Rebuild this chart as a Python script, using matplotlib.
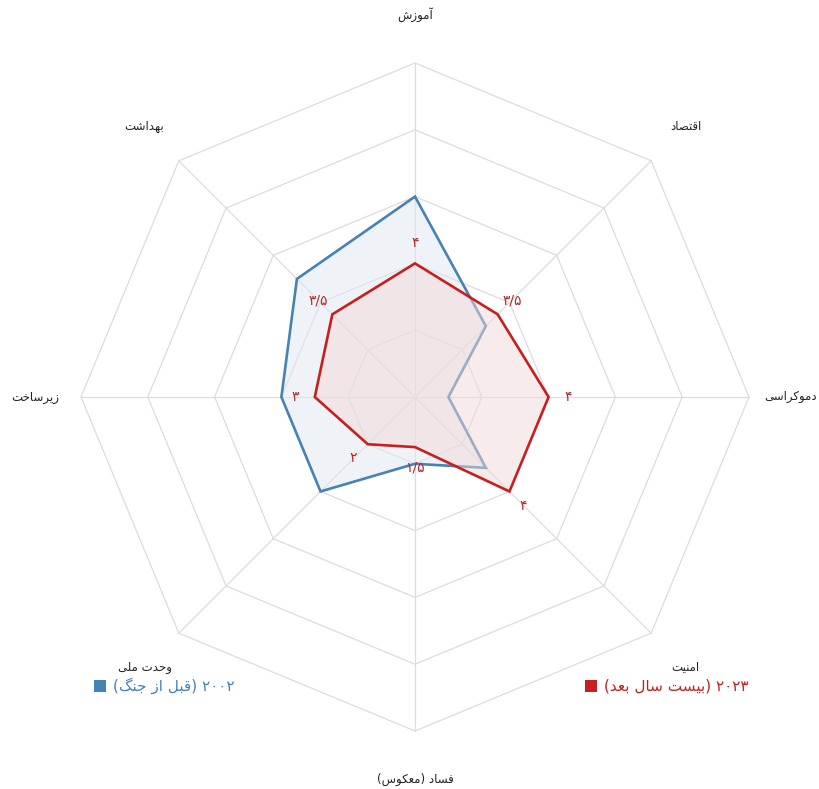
import matplotlib
matplotlib.use("Agg")
import matplotlib.pyplot as plt
from matplotlib.patches import Polygon, Rectangle
import numpy as np

# axes of the radar, clockwise from the top
categories = ["آموزش", "اقتصاد", "دموکراسی", "امنیت",
              "فساد (معکوس)", "وحدت ملی", "زیرساخت", "بهداشت"]
values_2002 = [6, 3, 1, 3, 2, 4, 4, 5]
values_2023 = [4, 3.5, 4, 4, 1.5, 2, 3, 3.5]
labels_2023 = ["۴", "۳/۵", "۴", "۴", "۱/۵", "۲", "۳", "۳/۵"]
legend_2002 = "۲۰۰۲ (قبل از جنگ)"
legend_2023 = "۲۰۲۳ (بیست سال بعد)"
max_value = 10
rings = [2, 4, 6, 8, 10]

BLUE = "#4682b4"
RED = "#c81e1e"
GRID = "#dcdcdc"

# contextual forms: isolated, final, initial, medial (right-joining letters have two)
FORMS = {
    "ا": ("\ufe8d", "\ufe8e"), "آ": ("\ufe81", "\ufe82"),
    "د": ("\ufea9", "\ufeaa"), "ر": ("\ufead", "\ufeae"),
    "ز": ("\ufeaf", "\ufeb0"), "و": ("\ufeed", "\ufeee"),
    "ب": ("\ufe8f", "\ufe90", "\ufe91", "\ufe92"),
    "ت": ("\ufe95", "\ufe96", "\ufe97", "\ufe98"),
    "ج": ("\ufe9d", "\ufe9e", "\ufe9f", "\ufea0"),
    "ح": ("\ufea1", "\ufea2", "\ufea3", "\ufea4"),
    "خ": ("\ufea5", "\ufea6", "\ufea7", "\ufea8"),
    "س": ("\ufeb1", "\ufeb2", "\ufeb3", "\ufeb4"),
    "ش": ("\ufeb5", "\ufeb6", "\ufeb7", "\ufeb8"),
    "ص": ("\ufeb9", "\ufeba", "\ufebb", "\ufebc"),
    "ع": ("\ufec9", "\ufeca", "\ufecb", "\ufecc"),
    "ف": ("\ufed1", "\ufed2", "\ufed3", "\ufed4"),
    "ق": ("\ufed5", "\ufed6", "\ufed7", "\ufed8"),
    "ل": ("\ufedd", "\ufede", "\ufedf", "\ufee0"),
    "م": ("\ufee1", "\ufee2", "\ufee3", "\ufee4"),
    "ن": ("\ufee5", "\ufee6", "\ufee7", "\ufee8"),
    "ه": ("\ufee9", "\ufeea", "\ufeeb", "\ufeec"),
    "ی": ("\ufbfc", "\ufbfd", "\ufbfe", "\ufbff"),
    "ک": ("\ufb8e", "\ufb8f", "\ufb90", "\ufb91"),
    "گ": ("\ufb92", "\ufb93", "\ufb94", "\ufb95"),
}
DIGITS = set("۰۱۲۳۴۵۶۷۸۹٫/0123456789")
MIRROR = {"(": ")", ")": "("}


def shape(text):
    out = []
    for i, ch in enumerate(text):
        f = FORMS.get(ch)
        if f is None:
            out.append(ch)
            continue
        prev = text[i - 1] if i > 0 else ""
        nxt = text[i + 1] if i + 1 < len(text) else ""
        join_prev = len(FORMS.get(prev, ())) == 4
        join_next = len(f) == 4 and nxt in FORMS
        if join_prev and join_next:
            out.append(f[3])
        elif join_next:
            out.append(f[2])
        elif join_prev:
            out.append(f[1])
        else:
            out.append(f[0])
    return "".join(out)


def rtl(text):
    s = shape(text)
    tokens = []
    for ch in s:
        if ch in DIGITS and tokens and tokens[-1][0] in DIGITS:
            tokens[-1] += ch
        else:
            tokens.append(ch)
    return "".join(MIRROR.get(t, t) for t in reversed(tokens))


n = len(categories)
angles = np.pi / 2 - np.arange(n) * 2 * np.pi / n


def xy(vals):
    v = np.asarray(vals, dtype=float)
    return np.column_stack([v * np.cos(angles), v * np.sin(angles)])


px = 33.4  # pixels per unit
fig = plt.figure(figsize=(8.2, 7.89), dpi=100)
ax = fig.add_axes([0, 0, 1, 1])
ax.set_xlim(-415 / px, (820 - 415) / px)
ax.set_ylim(-(789 - 397) / px, 397 / px)
ax.axis("off")

# octagon grid and spokes
for r in rings:
    ax.add_patch(Polygon(xy([r] * n), closed=True, fill=False,
                         edgecolor=GRID, lw=0.9, zorder=1))
outer = xy([max_value] * n)
for x, y in outer:
    ax.plot([0, x], [0, y], color=GRID, lw=0.9, zorder=1)

# 2002 series
ax.add_patch(Polygon(xy(values_2002), closed=True, facecolor="#e1e9f1",
                     alpha=0.5, edgecolor="none", zorder=2))
ax.add_patch(Polygon(xy(values_2002), closed=True, fill=False,
                     edgecolor=BLUE, lw=1.9, zorder=3))

# 2023 series, its fill sits over the 2002 outline
ax.add_patch(Polygon(xy(values_2023), closed=True, facecolor="#f1d9d9",
                     alpha=0.5, edgecolor="none", zorder=4))
ax.add_patch(Polygon(xy(values_2023), closed=True, fill=False,
                     edgecolor=RED, lw=1.9, zorder=5))

for (x, y), lab in zip(xy(np.array(values_2023) + 0.6), labels_2023):
    ax.text(x, y, lab, color="#b22a2a", fontsize=10, ha="center",
            va="center", zorder=6)

# category labels, the side ones kept inside the canvas
for i, ((x, y), cat) in enumerate(zip(xy([11.45] * n), categories)):
    ha = "center"
    if np.isclose(np.cos(angles[i]), 1):
        x, ha = (817 - 415) / px, "right"
    elif np.isclose(np.cos(angles[i]), -1):
        x, ha = (11 - 415) / px, "left"
    ax.text(x, y, rtl(cat), fontsize=8.5, ha=ha, va="center",
            color="#222222")

# legend entries under the lower corner labels
sq = 12 / px
for cx, text, color in [(100, legend_2002, BLUE), (591, legend_2023, RED)]:
    x0 = (cx - 415) / px
    y0 = (397 - 686) / px
    ax.add_patch(Rectangle((x0 - sq / 2, y0 - sq / 2), sq, sq,
                           facecolor=color, edgecolor="none"))
    ax.text(x0 + 13 / px, y0, rtl(text), fontsize=11, color=color,
            ha="left", va="center")

fig.savefig("out.png", dpi=100)
